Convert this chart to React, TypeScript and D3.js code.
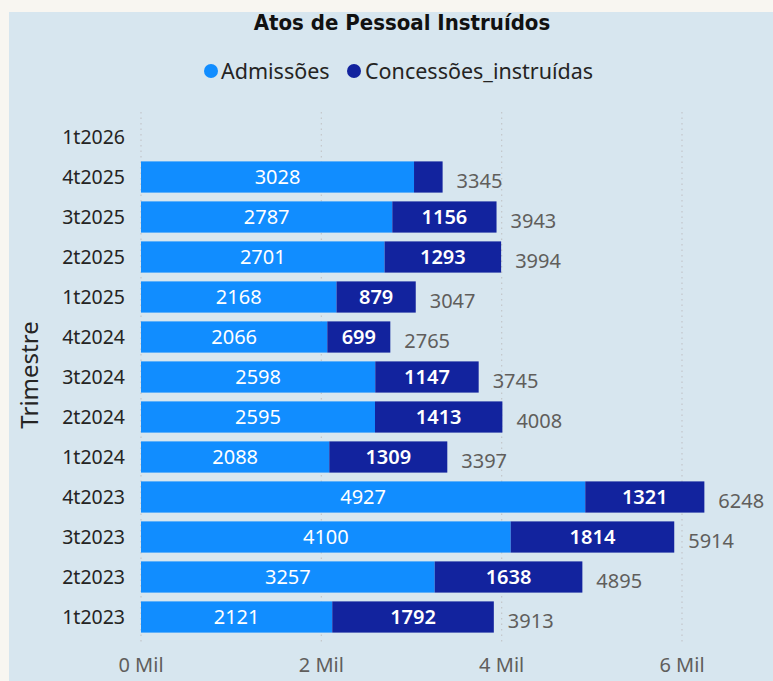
import React from "react";
import * as d3 from "d3";

const categories = ["1t2026", "4t2025", "3t2025", "2t2025", "1t2025", "4t2024", "3t2024", "2t2024", "1t2024", "4t2023", "3t2023", "2t2023", "1t2023"];
const admissoes = [0, 3028, 2787, 2701, 2168, 2066, 2598, 2595, 2088, 4927, 4100, 3257, 2121];
const concessoes = [0, 317, 1156, 1293, 879, 699, 1147, 1413, 1309, 1321, 1814, 1638, 1792];
const xTicks = [0, 2000, 4000, 6000];
const seriesNames = ["Admissões", "Concessões_instruídas"];
const colors = ["#118DFF", "#12239E"];

const W = 773;
const H = 681;
const FONT = "'Noto Sans', 'Open Sans', sans-serif";

export default function App() {
  const x = d3.scaleLinear().domain([0, 6000]).range([141, 682]);
  const y = d3.scaleBand().domain(categories).range([117, 637]).paddingInner(0.22).paddingOuter(0.11);
  const bh = y.bandwidth();

  const rows = categories.map((c, i) => ({ c, a: admissoes[i], b: concessoes[i], t: admissoes[i] + concessoes[i] }));

  return (
    <div style={{ position: "absolute", left: 0, top: 0, margin: 0 }}>
      <svg width={W} height={H} style={{ display: "block" }}>
        <rect x={0} y={0} width={W} height={H} fill="#f8f6f1" />
        <rect x={9} y={12} width={W - 9} height={H - 12} fill="#d7e6ef" />
        <text x={402} y={30} textAnchor="middle" fontFamily="'DejaVu Sans Condensed', sans-serif" fontWeight="bold" fontSize={22} fill="#111">
          Atos de Pessoal Instruídos
        </text>
        {/* legend */}
        <g fontFamily={FONT} fontSize={21.5} fill="#252423">
          <circle cx={211} cy={71} r={7} fill={colors[0]} />
          <text x={221} y={79}>{seriesNames[0]}</text>
          <circle cx={354} cy={71} r={7} fill={colors[1]} />
          <text x={365} y={79}>{seriesNames[1]}</text>
        </g>
        {/* gridlines */}
        {xTicks.map((t) => (
          <line key={t} x1={x(t)} x2={x(t)} y1={112} y2={645} stroke="#c3c6ca" strokeWidth={1.2} strokeDasharray="1.5,4" />
        ))}
        {/* bars */}
        {rows.map((r) => {
          const y0 = y(r.c)!;
          return (
            <g key={r.c}>
              {r.a > 0 && <rect x={x(0)} y={y0} width={x(r.a) - x(0)} height={bh} fill={colors[0]} />}
              {r.b > 0 && <rect x={x(r.a)} y={y0} width={x(r.t) - x(r.a)} height={bh} fill={colors[1]} />}
              {r.a > 0 && (
                <text x={(x(0) + x(r.a)) / 2} y={y0 + bh / 2 + 7} textAnchor="middle" fontFamily={FONT} fontSize={20} fill="#ffffff">
                  {r.a}
                </text>
              )}
              {r.b > 400 && (
                <text x={(x(r.a) + x(r.t)) / 2} y={y0 + bh / 2 + 7} textAnchor="middle" fontFamily={FONT} fontSize={20} fontWeight={600} fill="#ffffff">
                  {r.b}
                </text>
              )}
              {r.t > 0 && (
                <text x={x(r.t) + 14} y={y0 + bh / 2 + 11} fontFamily={FONT} fontSize={20} fill="#605e5c">
                  {r.t}
                </text>
              )}
            </g>
          );
        })}
        {/* y axis labels */}
        {categories.map((c) => (
          <text key={c} x={125} y={y(c)! + bh / 2 + 7} textAnchor="end" fontFamily={FONT} fontSize={19.5} fill="#252423">
            {c}
          </text>
        ))}
        <text transform={`translate(38,375) rotate(-90)`} textAnchor="middle" fontFamily={FONT} fontSize={24} fill="#252423">
          Trimestre
        </text>
        {/* x axis labels */}
        {xTicks.map((t) => (
          <text key={t} x={x(t)} y={672} textAnchor="middle" fontFamily={FONT} fontSize={20} fill="#605e5c">
            {`${t / 1000} Mil`}
          </text>
        ))}
      </svg>
    </div>
  );
}
